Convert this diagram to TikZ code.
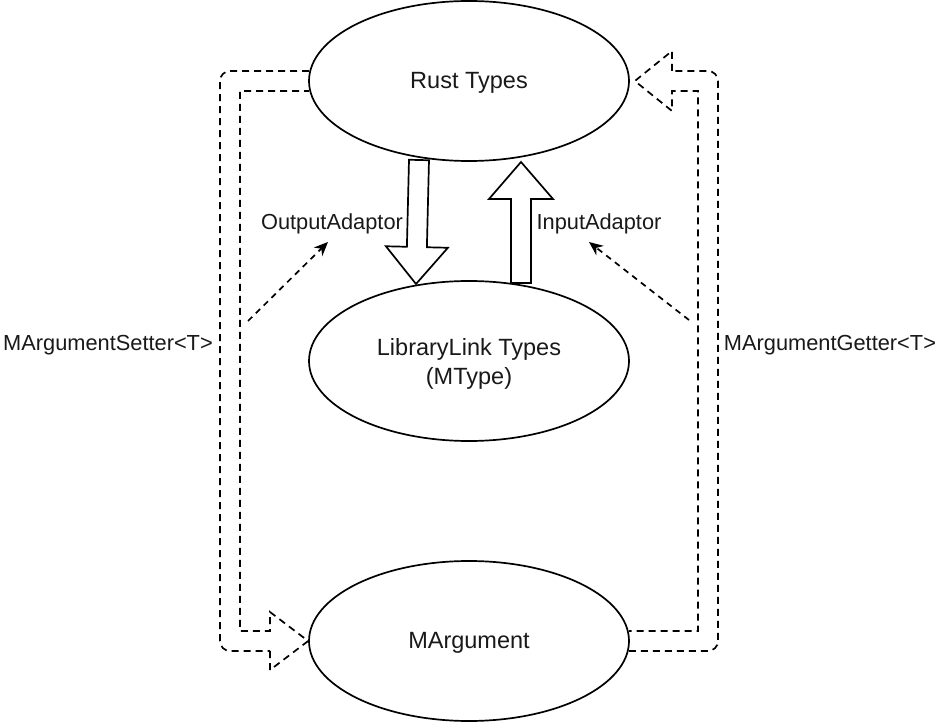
\documentclass[tikz,border=0pt]{standalone}
\usepackage{fontspec}
\setmainfont{Liberation Sans}
\usetikzlibrary{calc,arrows.meta,shapes.geometric}
\begin{document}
\begin{tikzpicture}[x=1pt,y=-1pt,
  ell/.style={draw,ellipse,line width=1.7pt,minimum width=320pt,minimum height=160pt,inner sep=0pt},
  etxt/.style={align=center,font=\fontsize{23.5}{29}\selectfont,text=black!90,inner sep=0pt},
  lbl/.style={font=\fontsize{21.8}{26}\selectfont,text=black!90,inner sep=0pt},
  flexd/.style={line width=1.7pt,dash pattern=on 7pt off 5pt,line join=miter},
  flexs/.style={line width=1.7pt,line join=miter,fill=white},
  hint/.style={line width=1.7pt,dash pattern=on 6pt off 5pt,-{Stealth[length=14pt,width=12pt]}}]
\useasboundingbox (0,0) rectangle (938,722);

\node[ell] (rust) at (469,81) {};
\node[ell] (lib) at (469,361) {};
\node[ell] (marg) at (469,641) {};
\node[etxt] (rustt) at (469,83) {Rust Types};
\node[etxt] (libt) at (469,364) {LibraryLink Types\\(MType)};
\node[etxt] (margt) at (469,643) {MArgument};

\node[lbl] (outl) at (332,224) {OutputAdaptor};
\node[lbl] (inl) at (599,224) {InputAdaptor};
\node[lbl] (setl) at (108,345) {MArgumentSetter<T>};
\node[lbl] (getl) at (830,345) {MArgumentGetter<T>};

% left flex arrow (setter)
\coordinate (ls1) at ($(rust.west)+(1,-10)$);
\coordinate (ls2) at ($(rust.west)+(1,10)$);
\coordinate (ltip) at (marg.west);
\draw[flexd,rounded corners=10pt] (ls1) -- (220,71) -- (220,651) -- (270,651);
\draw[flexd] (270,651) -- (270,670) -- (ltip) -- (270,612) -- (270,631) -- (240,631) -- (240,91) -- (ls2);

% right flex arrow (getter)
\coordinate (rs1) at ($(marg.east)+(-1,10)$);
\coordinate (rs2) at ($(marg.east)+(-1,-10)$);
\coordinate (rtip) at ($(rust.east)+(5,0)$);
\draw[flexd,rounded corners=10pt] (rs1) -- (718,651) -- (718,71) -- (672,71);
\draw[flexd] (672,71) -- (672,51) -- (rtip) -- (672,111) -- (672,91) -- (698,91) -- (698,631) -- (rs2);

% output adaptor (down)
\coordinate (ds) at (419,160);
\coordinate (de) at (416,284);
\coordinate (dh) at ($(de)!37pt!(ds)$);
\draw[flexs] ($(ds)!10pt!90:(de)$) -- ($(dh)!10pt!-90:(ds)$) -- ($(dh)!31pt!-90:(ds)$) -- (de)
  -- ($(dh)!31pt!90:(ds)$) -- ($(dh)!10pt!90:(ds)$) -- ($(ds)!10pt!-90:(de)$) -- cycle;

% input adaptor (up)
\coordinate (us) at (521,283);
\coordinate (ue) at (521,162);
\coordinate (uh) at ($(ue)!37pt!(us)$);
\draw[flexs] ($(us)!10pt!90:(ue)$) -- ($(uh)!10pt!-90:(us)$) -- ($(uh)!32pt!-90:(us)$) -- (ue)
  -- ($(uh)!32pt!90:(us)$) -- ($(uh)!10pt!90:(us)$) -- ($(us)!10pt!-90:(ue)$) -- cycle;

% hint arrows
\coordinate (h1s) at (248,321);
\coordinate (h1e) at (328,242);
\coordinate (h2s) at (689,320);
\coordinate (h2e) at (589,242);
\draw[hint] (h1s) -- (h1e);
\draw[hint] (h2s) -- (h2e);
\end{tikzpicture}
\end{document}
